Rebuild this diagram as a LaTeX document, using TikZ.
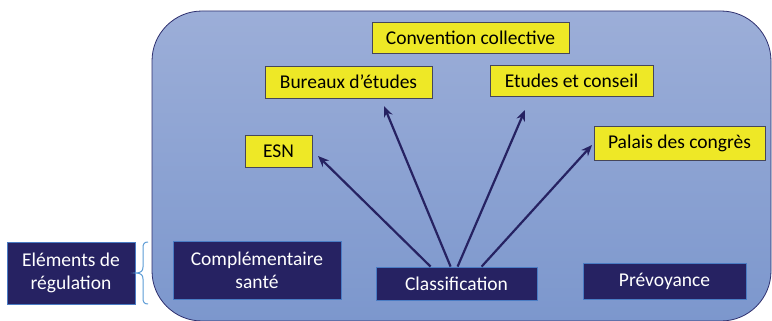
\documentclass[tikz,border=0pt]{standalone}
\usepackage{fontspec}
\setmainfont{Carlito}
\usetikzlibrary{arrows.meta,calc}
\definecolor{navy}{RGB}{38,34,98}
\definecolor{ybox}{RGB}{238,232,38}
\definecolor{yborder}{RGB}{70,70,90}
\definecolor{bborder}{RGB}{74,124,196}
\definecolor{bgtop}{RGB}{156,174,216}
\definecolor{bgbot}{RGB}{124,151,205}
\definecolor{bgline}{RGB}{46,47,110}
\definecolor{brace}{RGB}{91,155,213}
\begin{document}
\begin{tikzpicture}[x=1pt,y=-1pt,
  ylw/.style={draw=yborder,fill=ybox,line width=0.8pt,inner sep=0pt,font=\fontsize{19.5}{23}\selectfont,text=black},
  dbox/.style={draw=bborder,fill=navy,line width=0.8pt,inner sep=0pt,align=center,font=\fontsize{19.5}{23}\selectfont,text=white},
  arr/.style={draw=navy,line width=2.2pt,-{Stealth[length=11pt,width=9pt]}}]
\useasboundingbox (0,0) rectangle (772,321);
\shade[top color=bgtop,bottom color=bgbot,rounded corners=50pt] (152,11) rectangle (771,321);
\draw[bgline,line width=0.8pt,rounded corners=50pt] (152,11) rectangle (771,321);
\node[ylw,minimum width=197pt,minimum height=31pt] (conv) at (470.5,37.5) {Convention collective};
\node[ylw,minimum width=167pt,minimum height=32pt] (bur) at (348.5,82) {Bureaux d’études};
\node[ylw,minimum width=163pt,minimum height=31pt] (etu) at (571.5,80.5) {Etudes et conseil};
\node[ylw,minimum width=67pt,minimum height=32pt] (esn) at (278.5,151) {ESN\hspace{10pt}};
\node[ylw,minimum width=171pt,minimum height=34pt] (pal) at (679.5,143) {Palais des congrès};
\node[dbox,minimum width=128pt,minimum height=62pt] (elem) at (71,273) {Eléments de\\régulation};
\node[dbox,minimum width=168pt,minimum height=58pt] (comp) at (257,270) {Complémentaire\\santé};
\node[dbox,minimum width=161pt,minimum height=33pt] (cls) at (456.5,283.5) {Classification};
\node[dbox,minimum width=163pt,minimum height=36pt] (prev) at (664.5,281) {Prévoyance};
\coordinate (tesn) at (318,156);
\coordinate (tbur) at (384,106);
\coordinate (tetu) at (525,110);
\coordinate (tpal) at (592,145);
\draw[arr] ($(cls.north west)+(55,0)$) -- (tesn);
\draw[arr] ($(cls.north west)+(75,0)$) -- (tbur);
\draw[arr] ($(cls.north west)+(82,0)$) -- (tetu);
\draw[arr] ($(cls.north west)+(106,0)$) -- (tpal);
\draw[brace,line width=1pt] (148,242) .. controls (144,242) and (143,244) .. (143,248) -- (143,267) .. controls (143,271) and (141,273) .. (elem.east) .. controls (141,273) and (143,275) .. (143,279) -- (143,298) .. controls (143,302) and (144,304) .. (148,304);
\end{tikzpicture}
\end{document}
